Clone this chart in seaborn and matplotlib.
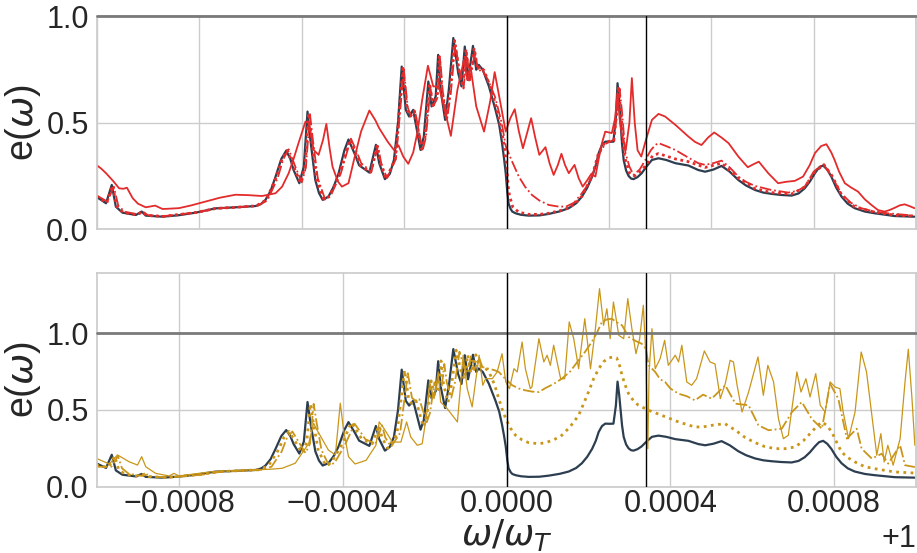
import numpy as np
import pandas as pd
import matplotlib
matplotlib.use("Agg")
import matplotlib.pyplot as plt
import seaborn as sns
from matplotlib.ticker import MultipleLocator, ScalarFormatter

# ---------------- data (x: (omega/omega_T - 1) in units of 1e-6, y: e(omega)) ----------------
X_UNIT = 1e-6

dark_pts = [(-1002, 0.153), (-978, 0.122), (-964, 0.208), (-954, 0.106), (-938, 0.078), (-905, 0.067),
            (-891, 0.083), (-881, 0.064), (-840, 0.059), (-800, 0.066), (-759, 0.078), (-711, 0.098),
            (-662, 0.103), (-613, 0.109), (-600, 0.118), (-589, 0.137), (-576, 0.18), (-564, 0.247),
            (-550, 0.33), (-538, 0.369), (-528, 0.33), (-520, 0.278), (-506, 0.216), (-495, 0.294),
            (-486, 0.552), (-479, 0.419), (-467, 0.231), (-458, 0.17), (-449, 0.138), (-435, 0.153),
            (-422, 0.2), (-410, 0.263), (-396, 0.37), (-386, 0.421), (-370, 0.35), (-360, 0.30),
            (-335, 0.266), (-319, 0.396), (-311, 0.31), (-297, 0.235), (-285, 0.26), (-275, 0.325),
            (-265, 0.5), (-256, 0.763), (-246, 0.56), (-238, 0.529), (-228, 0.56), (-210, 0.372),
            (-202, 0.435), (-191, 0.693), (-183, 0.576), (-173, 0.623), (-167, 0.818), (-161, 0.654),
            (-150, 0.513), (-141, 0.654), (-130, 0.897), (-118, 0.732), (-110, 0.67), (-102, 0.857),
            (-94, 0.70), (-82, 0.86), (-74, 0.748), (-68, 0.771), (-58, 0.748), (-43, 0.67),
            (-27, 0.56), (-18, 0.49), (-11, 0.404), (-6, 0.33), (-2, 0.263), (2, 0.17), (5, 0.12),
            (10, 0.095), (14, 0.083), (22, 0.075), (35, 0.068), (54, 0.064), (80, 0.065), (103, 0.072),
            (130, 0.084), (152, 0.099), (170, 0.122), (184, 0.153), (197, 0.195), (209, 0.247),
            (218, 0.30), (225, 0.357), (233, 0.395), (241, 0.411), (252, 0.41), (261, 0.411),
            (267, 0.529), (271, 0.685), (275, 0.6), (278, 0.513), (282, 0.40), (286, 0.325),
            (292, 0.275), (298, 0.25), (304, 0.238), (310, 0.235), (320, 0.245), (330, 0.263),
            (342, 0.295), (355, 0.325), (371, 0.333), (390, 0.325), (412, 0.31), (444, 0.299),
            (468, 0.278), (485, 0.27), (505, 0.28), (525, 0.297), (545, 0.27), (566, 0.231),
            (585, 0.205), (607, 0.184), (627, 0.172), (647, 0.166), (670, 0.161), (696, 0.158),
            (713, 0.168), (728, 0.192), (741, 0.225), (753, 0.263), (763, 0.29), (773, 0.299),
            (783, 0.28), (793, 0.247), (805, 0.195), (818, 0.153), (833, 0.12), (850, 0.099),
            (875, 0.083), (899, 0.075), (948, 0.062), (996, 0.059)]

red_dotted_pts = [(-1002, 0.155), (-976, 0.124), (-962, 0.205), (-952, 0.108), (-936, 0.079), (-903, 0.068),
                  (-889, 0.082), (-879, 0.065), (-838, 0.06), (-757, 0.079), (-709, 0.098), (-660, 0.103),
                  (-611, 0.11), (-587, 0.137), (-562, 0.245), (-548, 0.33), (-535, 0.37), (-517, 0.28),
                  (-503, 0.218), (-492, 0.295), (-483, 0.545), (-476, 0.42), (-464, 0.233), (-446, 0.14),
                  (-432, 0.155), (-407, 0.265), (-383, 0.42), (-367, 0.35), (-357, 0.30), (-332, 0.267),
                  (-316, 0.39), (-308, 0.31), (-294, 0.236), (-272, 0.33), (-253, 0.755), (-243, 0.56),
                  (-235, 0.53), (-225, 0.555), (-207, 0.375), (-199, 0.435), (-188, 0.685), (-180, 0.58),
                  (-170, 0.62), (-164, 0.81), (-158, 0.65), (-147, 0.515), (-138, 0.65), (-127, 0.885),
                  (-115, 0.73), (-107, 0.67), (-99, 0.845), (-91, 0.70), (-79, 0.85), (-71, 0.75),
                  (-65, 0.765), (-55, 0.745), (-40, 0.67), (-24, 0.565), (-8, 0.42), (0, 0.30), (4, 0.2),
                  (7, 0.16), (15, 0.105), (30, 0.08), (54, 0.07), (80, 0.07), (103, 0.075), (130, 0.087),
                  (152, 0.10), (170, 0.125), (184, 0.155), (209, 0.25), (225, 0.36), (241, 0.41),
                  (262, 0.415), (268, 0.53), (273, 0.67), (280, 0.53), (288, 0.34), (300, 0.265),
                  (312, 0.25), (332, 0.28), (357, 0.345), (371, 0.355), (412, 0.33), (444, 0.317),
                  (485, 0.29), (525, 0.31), (566, 0.24), (607, 0.19), (647, 0.172), (696, 0.165),
                  (728, 0.198), (753, 0.27), (775, 0.303), (795, 0.25), (818, 0.16), (850, 0.105),
                  (899, 0.08), (948, 0.066), (996, 0.062)]

red_dashdot_pts = [(-1002, 0.16), (-975, 0.13), (-959, 0.20), (-948, 0.11), (-932, 0.082), (-900, 0.07),
                   (-886, 0.08), (-876, 0.066), (-835, 0.062), (-755, 0.08), (-705, 0.098), (-655, 0.104),
                   (-608, 0.11), (-584, 0.135), (-559, 0.24), (-545, 0.33), (-532, 0.375), (-514, 0.285),
                   (-500, 0.22), (-490, 0.29), (-480, 0.54), (-473, 0.42), (-461, 0.24), (-443, 0.14),
                   (-430, 0.155), (-405, 0.26), (-380, 0.425), (-365, 0.36), (-355, 0.31), (-330, 0.27),
                   (-314, 0.39), (-306, 0.31), (-292, 0.24), (-270, 0.33), (-251, 0.75), (-241, 0.57),
                   (-233, 0.53), (-223, 0.55), (-205, 0.37), (-197, 0.43), (-186, 0.66), (-178, 0.58),
                   (-168, 0.62), (-162, 0.80), (-156, 0.65), (-145, 0.52), (-136, 0.64), (-125, 0.87),
                   (-113, 0.72), (-105, 0.66), (-97, 0.82), (-89, 0.70), (-77, 0.83), (-69, 0.74),
                   (-60, 0.75), (-45, 0.70), (-28, 0.62), (-12, 0.50), (-2, 0.39), (13, 0.32),
                   (30, 0.247), (45, 0.20), (62, 0.161), (80, 0.135), (103, 0.114), (125, 0.107),
                   (145, 0.106), (165, 0.125), (184, 0.169), (197, 0.205), (209, 0.25), (225, 0.35),
                   (241, 0.40), (262, 0.42), (270, 0.55), (276, 0.66), (282, 0.55), (290, 0.36),
                   (300, 0.294), (310, 0.255), (325, 0.28), (339, 0.325), (352, 0.37), (363, 0.395),
                   (371, 0.404), (390, 0.39), (412, 0.372), (444, 0.336), (468, 0.31), (485, 0.302),
                   (505, 0.31), (525, 0.322), (545, 0.29), (566, 0.247), (585, 0.222), (607, 0.203),
                   (645, 0.185), (688, 0.172), (710, 0.18), (728, 0.2), (750, 0.27), (773, 0.307),
                   (795, 0.245), (817, 0.169), (840, 0.125), (866, 0.099), (900, 0.082), (931, 0.075),
                   (996, 0.064)]

red_solid_pts = [(-1002, 0.302), (-990, 0.285), (-978, 0.263), (-960, 0.225), (-946, 0.192), (-935, 0.19),
                 (-927, 0.195), (-920, 0.17), (-913, 0.146), (-900, 0.12), (-881, 0.103), (-858, 0.111),
                 (-840, 0.095), (-800, 0.099), (-770, 0.112), (-735, 0.13), (-700, 0.148), (-662, 0.162),
                 (-630, 0.16), (-597, 0.156), (-564, 0.169), (-548, 0.2), (-532, 0.263), (-520, 0.33),
                 (-508, 0.404), (-491, 0.505), (-482, 0.498), (-471, 0.372), (-459, 0.349), (-448, 0.42),
                 (-440, 0.494), (-432, 0.38), (-425, 0.294), (-412, 0.225), (-402, 0.2), (-386, 0.216),
                 (-372, 0.33), (-355, 0.46), (-335, 0.557), (-320, 0.51), (-311, 0.474), (-290, 0.41),
                 (-275, 0.372), (-264, 0.394), (-252, 0.34), (-240, 0.307), (-228, 0.36), (-218, 0.451),
                 (-206, 0.607), (-192, 0.767), (-179, 0.67), (-165, 0.67), (-153, 0.576), (-136, 0.438),
                 (-120, 0.654), (-104, 0.795), (-96, 0.70), (-88, 0.763), (-74, 0.576), (-55, 0.458),
                 (-40, 0.6), (-29, 0.737), (-15, 0.592), (-2, 0.458), (9, 0.52), (20, 0.563), (30, 0.46),
                 (40, 0.38), (50, 0.45), (60, 0.521), (70, 0.43), (80, 0.349), (95, 0.385), (105, 0.31),
                 (115, 0.255), (125, 0.3), (134, 0.354), (143, 0.3), (152, 0.263), (166, 0.302),
                 (176, 0.24), (186, 0.2), (197, 0.23), (207, 0.26), (217, 0.247), (225, 0.33),
                 (233, 0.404), (241, 0.458), (257, 0.451), (265, 0.52), (271, 0.64), (276, 0.52),
                 (281, 0.45), (291, 0.37), (300, 0.5), (306, 0.709), (313, 0.5), (320, 0.37),
                 (329, 0.341), (342, 0.43), (355, 0.513), (371, 0.541), (387, 0.529), (412, 0.49),
                 (444, 0.435), (460, 0.41), (476, 0.395), (492, 0.43), (507, 0.454), (525, 0.43),
                 (542, 0.404), (566, 0.341), (589, 0.291), (603, 0.305), (616, 0.317), (639, 0.263),
                 (663, 0.216), (684, 0.223), (704, 0.227), (724, 0.247), (740, 0.3), (753, 0.357),
                 (768, 0.39), (781, 0.399), (793, 0.36), (801, 0.325), (812, 0.27), (826, 0.216),
                 (842, 0.195), (858, 0.177), (875, 0.14), (891, 0.114), (907, 0.09), (923, 0.083),
                 (935, 0.09), (948, 0.101), (960, 0.112), (972, 0.117), (985, 0.108), (996, 0.099)]

gold_dotted_pts = [(-1002, 0.14), (-972, 0.125), (-957, 0.20), (-947, 0.11), (-931, 0.08), (-898, 0.068),
                   (-884, 0.082), (-874, 0.066), (-833, 0.06), (-752, 0.078), (-704, 0.098), (-655, 0.104),
                   (-606, 0.11), (-582, 0.135), (-557, 0.24), (-544, 0.32), (-531, 0.36), (-513, 0.28),
                   (-499, 0.22), (-488, 0.29), (-479, 0.54), (-472, 0.42), (-460, 0.24), (-442, 0.14),
                   (-428, 0.155), (-403, 0.27), (-379, 0.42), (-363, 0.35), (-353, 0.31), (-328, 0.28),
                   (-312, 0.40), (-304, 0.32), (-290, 0.25), (-268, 0.34), (-249, 0.76), (-239, 0.57),
                   (-231, 0.54), (-221, 0.56), (-203, 0.39), (-195, 0.45), (-184, 0.69), (-176, 0.60),
                   (-166, 0.64), (-160, 0.82), (-154, 0.67), (-143, 0.55), (-134, 0.67), (-123, 0.89),
                   (-111, 0.75), (-103, 0.70), (-95, 0.86), (-87, 0.74), (-75, 0.86), (-67, 0.78),
                   (-58, 0.79), (-43, 0.748), (-30, 0.67), (-19, 0.574), (-10, 0.5), (-2, 0.443),
                   (10, 0.38), (22, 0.335), (38, 0.305), (54, 0.287), (79, 0.28), (95, 0.287),
                   (115, 0.305), (135, 0.335), (155, 0.39), (176, 0.465), (188, 0.54), (200, 0.617),
                   (212, 0.70), (225, 0.769), (237, 0.815), (249, 0.839), (259, 0.845), (269, 0.839),
                   (276, 0.79), (282, 0.726), (290, 0.66), (298, 0.606), (310, 0.56), (322, 0.531),
                   (347, 0.498), (379, 0.465), (420, 0.422), (460, 0.389), (480, 0.39), (501, 0.40),
                   (533, 0.411), (559, 0.368), (583, 0.32), (607, 0.287), (630, 0.262), (656, 0.248),
                   (680, 0.248), (705, 0.259), (725, 0.30), (745, 0.357), (758, 0.395), (770, 0.422),
                   (782, 0.40), (794, 0.357), (806, 0.29), (818, 0.226), (833, 0.19), (851, 0.161),
                   (875, 0.13), (900, 0.117), (948, 0.096), (997, 0.089)]

gold_dashdot_pts = [(-1002, 0.13), (-965, 0.13), (-949, 0.20), (-939, 0.12), (-923, 0.085), (-890, 0.07),
                    (-876, 0.08), (-866, 0.066), (-825, 0.06), (-744, 0.078), (-696, 0.098), (-647, 0.104),
                    (-598, 0.11), (-574, 0.13), (-549, 0.23), (-536, 0.32), (-523, 0.36), (-505, 0.28),
                    (-491, 0.22), (-480, 0.28), (-471, 0.54), (-464, 0.42), (-452, 0.24), (-434, 0.14),
                    (-420, 0.155), (-395, 0.27), (-371, 0.41), (-355, 0.35), (-345, 0.31), (-320, 0.28),
                    (-304, 0.40), (-296, 0.32), (-282, 0.26), (-260, 0.35), (-241, 0.74), (-231, 0.58),
                    (-223, 0.56), (-213, 0.57), (-195, 0.42), (-187, 0.48), (-176, 0.68), (-168, 0.62),
                    (-158, 0.66), (-152, 0.80), (-146, 0.68), (-135, 0.58), (-126, 0.68), (-115, 0.88),
                    (-103, 0.77), (-95, 0.74), (-87, 0.85), (-79, 0.76), (-67, 0.84), (-59, 0.78),
                    (-45, 0.77), (-30, 0.76), (-19, 0.748), (-2, 0.70), (14, 0.661), (30, 0.64),
                    (46, 0.628), (62, 0.62), (79, 0.617), (95, 0.643), (115, 0.67), (135, 0.704),
                    (155, 0.75), (176, 0.824), (192, 0.88), (208, 0.943), (220, 1.0), (233, 1.074),
                    (245, 1.09), (257, 1.095), (270, 1.07), (282, 1.052), (298, 0.976), (315, 0.95),
                    (330, 0.932), (340, 0.9), (347, 0.791), (363, 0.748), (375, 0.70), (387, 0.683),
                    (400, 0.64), (420, 0.606), (440, 0.59), (460, 0.563), (480, 0.60), (501, 0.574),
                    (534, 0.661), (559, 0.541), (591, 0.531), (615, 0.40), (640, 0.368), (672, 0.378),
                    (697, 0.487), (721, 0.552), (745, 0.443), (770, 0.378), (790, 0.671), (810, 0.574),
                    (831, 0.313), (855, 0.378), (867, 0.248), (892, 0.183), (916, 0.215), (932, 0.15),
                    (961, 0.27), (973, 0.14), (997, 0.128)]

gold_solid_pts = [(-1002, 0.185), (-970, 0.148), (-950, 0.207), (-922, 0.163), (-901, 0.141), (-891, 0.196),
                  (-881, 0.13), (-857, 0.087), (-824, 0.07), (-812, 0.087), (-800, 0.07), (-719, 0.098),
                  (-637, 0.109), (-581, 0.113), (-548, 0.12), (-516, 0.153), (-483, 0.283), (-471, 0.413),
                  (-463, 0.37), (-435, 0.239), (-418, 0.207), (-406, 0.544), (-398, 0.37), (-386, 0.196),
                  (-370, 0.148), (-343, 0.172), (-319, 0.27), (-311, 0.422), (-299, 0.378), (-279, 0.291),
                  (-258, 0.291), (-244, 0.422), (-234, 0.324), (-218, 0.27), (-206, 0.28), (-193, 0.509),
                  (-188, 0.683), (-177, 0.574), (-167, 0.748), (-161, 0.552), (-145, 0.509), (-120, 0.422),
                  (-106, 0.857), (-96, 0.639), (-84, 0.52), (-67, 0.857), (-58, 0.661), (-51, 0.704),
                  (-35, 0.704), (-23, 0.748), (-11, 0.867), (-2, 0.683), (7, 0.639), (18, 0.769),
                  (26, 0.748), (38, 0.943), (46, 0.769), (58, 0.639), (62, 0.65), (79, 0.965),
                  (91, 0.813), (99, 0.857), (107, 0.791), (115, 0.922), (132, 0.704), (142, 0.704),
                  (153, 1.074), (164, 0.965), (176, 0.769), (191, 1.095), (205, 0.769), (217, 1.03),
                  (227, 1.291), (237, 1.052), (245, 1.16), (253, 0.965), (261, 1.204), (274, 0.987),
                  (286, 0.965), (296, 1.226), (306, 1.03), (316, 0.867), (325, 0.965), (334, 1.183),
                  (340, 0.857), (345, 0.248), (348, 0.748), (355, 1.03), (363, 0.769), (375, 0.835),
                  (386, 0.954), (395, 0.791), (412, 0.857), (420, 0.813), (428, 0.922), (440, 0.683),
                  (452, 0.661), (464, 0.704), (483, 0.885), (497, 0.813), (509, 0.80), (522, 0.574),
                  (534, 0.671), (546, 0.824), (554, 0.813), (563, 0.661), (575, 0.487), (591, 0.617),
                  (614, 0.846), (627, 0.596), (638, 0.791), (652, 0.683), (664, 0.443), (676, 0.313),
                  (688, 0.335), (709, 0.748), (719, 0.617), (731, 0.704), (741, 0.585), (755, 0.737),
                  (766, 0.531), (778, 0.487), (790, 0.683), (802, 0.65), (814, 0.639), (822, 0.487),
                  (835, 0.313), (851, 0.487), (866, 0.878), (879, 0.748), (892, 0.465), (904, 0.205),
                  (914, 0.346), (922, 0.161), (931, 0.27), (944, 0.14), (961, 0.313), (973, 0.683),
                  (981, 0.896), (990, 0.574), (997, 0.27)]

vline_positions = [1.0, 1.00034]
hline_level = 1.0
x_offset_label = "+1"

DARK = "#2c3e50"
RED = "#e32b2b"
GOLD = "#c9961a"


def to_df(pts):
    a = np.asarray(pts, dtype=float)
    return pd.DataFrame({"w": 1.0 + a[:, 0] * X_UNIT, "e": a[:, 1]})


sns.set_theme(style="whitegrid", context="notebook", font_scale=2)
plt.rcParams["font.family"] = ["Liberation Sans", "DejaVu Sans"]
plt.rcParams["mathtext.fontset"] = "dejavusans"

fig = plt.figure(figsize=(9.17, 5.53), dpi=100)
ax1 = fig.add_axes([0.1058, 0.5854, 0.8932, 0.3856])
ax2 = fig.add_axes([0.1058, 0.1199, 0.8932, 0.3870])

# top panel
sns.lineplot(data=to_df(dark_pts), x="w", y="e", ax=ax1, color=DARK, lw=1.6)
sns.lineplot(data=to_df(red_dotted_pts), x="w", y="e", ax=ax1, color=RED, lw=2.0, linestyle=(0, (1, 1.3)))
sns.lineplot(data=to_df(red_dashdot_pts), x="w", y="e", ax=ax1, color=RED, lw=1.3, linestyle="-.")
sns.lineplot(data=to_df(red_solid_pts), x="w", y="e", ax=ax1, color=RED, lw=1.3)

# bottom panel
sns.lineplot(data=to_df(dark_pts), x="w", y="e", ax=ax2, color=DARK, lw=1.6)
sns.lineplot(data=to_df(gold_dotted_pts), x="w", y="e", ax=ax2, color=GOLD, lw=2.0, linestyle=(0, (1, 1.6)))
sns.lineplot(data=to_df(gold_dashdot_pts), x="w", y="e", ax=ax2, color=GOLD, lw=1.3, linestyle="-.")
sns.lineplot(data=to_df(gold_solid_pts), x="w", y="e", ax=ax2, color=GOLD, lw=0.9)

for ax in (ax1, ax2):
    for xv in vline_positions:
        ax.axvline(xv, color="black", lw=1.0, zorder=5)
    ax.axhline(hline_level, color="#7a7a7a", lw=2.0, zorder=4, clip_on=False)
    ax.set_xlim(0.999, 1.001)
    ax.set_yticks([0.0, 0.5, 1.0])
    ax.set_ylabel(r"e($\omega$)", fontsize=27)
    ax.yaxis.set_label_coords(-0.066, 0.5)
    ax.tick_params(axis="both", length=0)
    ax.tick_params(axis="y", pad=6)
    ax.tick_params(axis="x", pad=2)
    fmt = ScalarFormatter(useOffset=1.0)
    ax.xaxis.set_major_formatter(fmt)
    ax.xaxis.get_offset_text().set_visible(False)

ax1.set_ylim(0.0, 1.0)
ax2.set_ylim(0.0, 1.395)

ax1.xaxis.set_major_locator(MultipleLocator(0.00025))
ax1.tick_params(labelbottom=False)
ax1.set_xlabel("")

ax2.xaxis.set_major_locator(MultipleLocator(0.0004))
ax2.set_xlabel(r"$\omega/\omega_T$", fontsize=26)
ax2.xaxis.set_label_coords(0.5, -0.142)
ax2.text(1.0, -0.28, x_offset_label, transform=ax2.transAxes, ha="right", va="baseline",
         fontsize=22, color="#262626")

fig.savefig("out.png", dpi=100)
